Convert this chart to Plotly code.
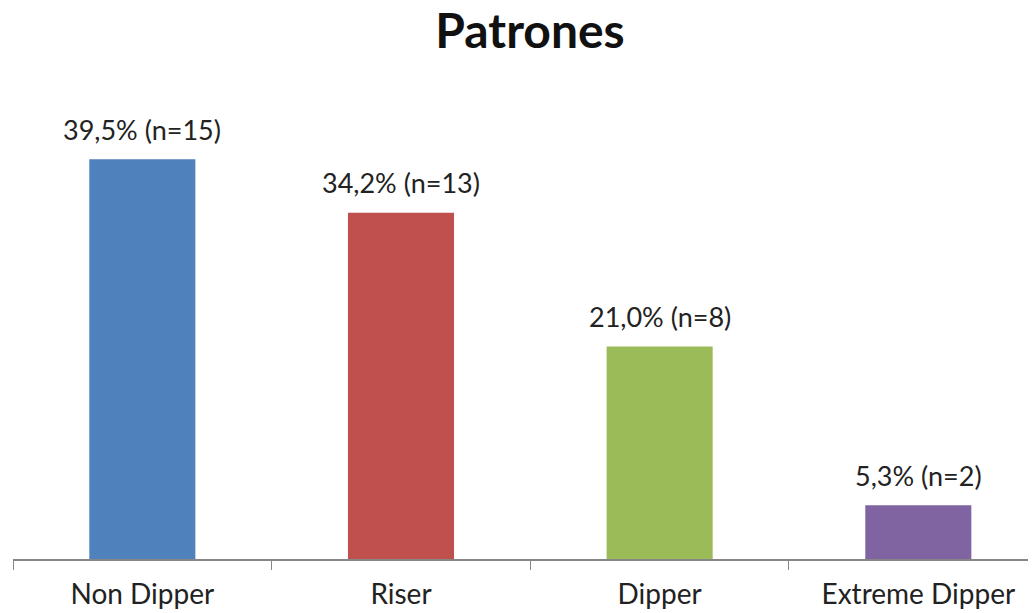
import plotly.graph_objects as go

categorias = ["Non Dipper", "Riser", "Dipper", "Extreme Dipper"]
porcentajes = [39.5, 34.2, 21.0, 5.3]
n_casos = [15, 13, 8, 2]
colores = ["#4F81BD", "#C0504D", "#9BBB59", "#8064A2"]

etiquetas = [f"{p:.1f}".replace(".", ",") + f"% (n={n})" for p, n in zip(porcentajes, n_casos)]

fig = go.Figure()
fig.add_trace(go.Bar(
    x=categorias,
    y=porcentajes,
    marker=dict(color=colores, line=dict(width=0)),
    width=0.41,
    hoverinfo="skip",
))

# etiquetas encima de cada barra
for cat, p, txt in zip(categorias, porcentajes, etiquetas):
    fig.add_annotation(
        x=cat, y=p, text=txt, showarrow=False,
        yanchor="middle", yshift=30,
        font=dict(family="Lato", size=27, color="#222222"),
    )

# la página html tiene 8px de margen en el body, por eso 1028x605
fig.update_layout(
    width=1028, height=605,
    paper_bgcolor="white", plot_bgcolor="white",
    margin=dict(l=5, r=0, t=92, b=54, autoexpand=False),
    title=dict(
        text="<b>Patrones</b>", x=522 / 1028, xanchor="center",
        y=1, yanchor="top", pad=dict(t=6),
        font=dict(family="Lato", size=48, color="#111111"),
    ),
    showlegend=False,
    xaxis=dict(
        range=[-0.5, 3.455],
        showline=True, linecolor="#868686", linewidth=1.5,
        ticks="outside", tickson="boundaries", ticklen=9, tickcolor="#868686",
        showgrid=False, ticklabelstandoff=10,
        tickfont=dict(family="Lato", size=28, color="#222222"),
    ),
    yaxis=dict(range=[0, 45.35], visible=False, showgrid=False),
)

fig.write_html("out.html")
